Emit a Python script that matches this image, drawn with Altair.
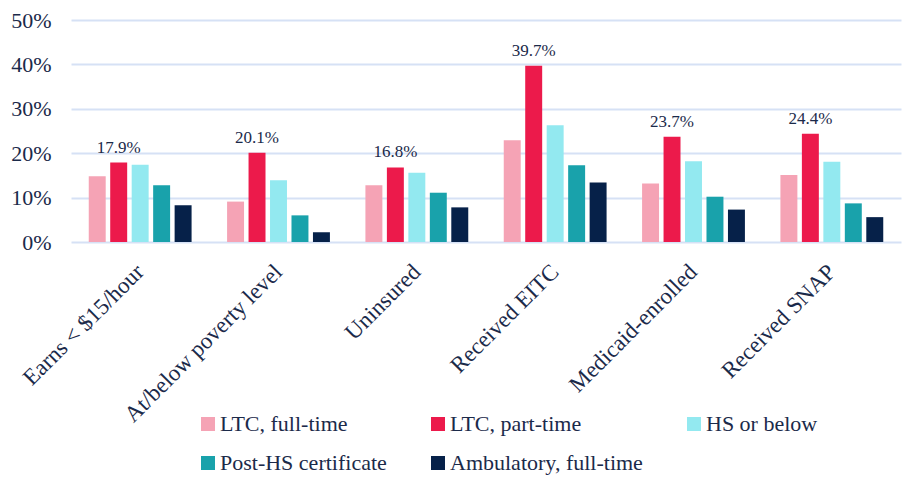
import altair as alt
import pandas as pd

# Categories and series
categories = [
    "Earns < $15/hour",
    "At/below poverty level",
    "Uninsured",
    "Received EITC",
    "Medicaid-enrolled",
    "Received SNAP",
]
series = [
    "LTC, full-time",
    "LTC, part-time",
    "HS or below",
    "Post-HS certificate",
    "Ambulatory, full-time",
]
colors = ["#F5A3B5", "#EC1A4B", "#93E9F0", "#19A2AB", "#062149"]

# Share of workers (%) per category, one list per series
ltc_full = [14.8, 9.1, 12.8, 22.9, 13.2, 15.1]
ltc_part = [17.9, 20.1, 16.8, 39.7, 23.7, 24.4]
hs_below = [17.4, 13.9, 15.6, 26.3, 18.2, 18.1]
post_hs = [12.8, 6.0, 11.1, 17.3, 10.2, 8.7]
ambulatory = [8.3, 2.2, 7.8, 13.4, 7.3, 5.6]

y_ticks = [0, 10, 20, 30, 40, 50]

rows = []
for name, vals in zip(series, [ltc_full, ltc_part, hs_below, post_hs, ambulatory]):
    for cat, v in zip(categories, vals):
        rows.append({"category": cat, "series": name, "value": v})
df = pd.DataFrame(rows)

FONT = "Liberation Serif"
TEXT = "#1B2A4A"
GRID = "#D6E1F5"

x_enc = alt.X(
    "category:N",
    sort=categories,
    scale=alt.Scale(paddingInner=0.224, paddingOuter=0.112),
    axis=alt.Axis(
        title=None,
        labelAngle=-45,
        labelAlign="right",
        labelBaseline="middle",
        labelFont=FONT,
        labelFontSize=23,
        labelColor=TEXT,
        labelPadding=26,
        labelLimit=400,
        ticks=False,
        domain=False,
    ),
)
xoff_enc = alt.XOffset(
    "series:N",
    sort=series,
    scale=alt.Scale(paddingInner=0.21, paddingOuter=0.105),
)
y_enc = alt.Y(
    "value:Q",
    scale=alt.Scale(domain=[0, 50]),
    axis=alt.Axis(
        title=None,
        values=y_ticks,
        labelExpr="datum.value + '%'",
        labelFont=FONT,
        labelFontSize=22,
        labelColor=TEXT,
        labelPadding=20,
        grid=True,
        gridColor=GRID,
        gridWidth=2,
        ticks=False,
        domain=False,
    ),
)

bars = alt.Chart(df).mark_bar().encode(
    x=x_enc,
    xOffset=xoff_enc,
    y=y_enc,
    color=alt.Color(
        "series:N",
        sort=series,
        scale=alt.Scale(domain=series, range=colors),
        legend=alt.Legend(
            title=None,
            orient="none",
            legendX=126,
            legendY=393,
            direction="horizontal",
            columns=3,
            columnPadding=40,
            rowPadding=17,
            padding=0,
            symbolType="square",
            symbolSize=196,
            symbolStrokeWidth=0,
            symbolOpacity=1,
            labelFont=FONT,
            labelFontSize=22,
            labelColor=TEXT,
            labelOffset=1,
            labelLimit=400,
        ),
    ),
)

labels = (
    alt.Chart(df)
    .transform_filter(alt.datum.series == "LTC, part-time")
    .transform_calculate(label="format(datum.value, '.1f') + '%'")
    .mark_text(font=FONT, fontSize=17, color=TEXT, baseline="alphabetic", dy=-10)
    .encode(
        x=alt.X("category:N", sort=categories),
        xOffset=alt.XOffset("series:N", sort=series),
        y="value:Q",
        text="label:N",
    )
)

chart = (
    alt.layer(bars, labels)
    .properties(
        width=830,
        height=222,
        autosize=alt.AutoSizeParams(type="none"),
        padding={"left": 71, "top": 20, "right": 1, "bottom": 235},
    )
    .configure(background="white", font=FONT)
    .configure_view(stroke=None)
    .configure_legend(labelFont=FONT)
    .configure_text(font=FONT)
)

chart.save("out.html", embed_options={"renderer": "svg", "actions": False})
